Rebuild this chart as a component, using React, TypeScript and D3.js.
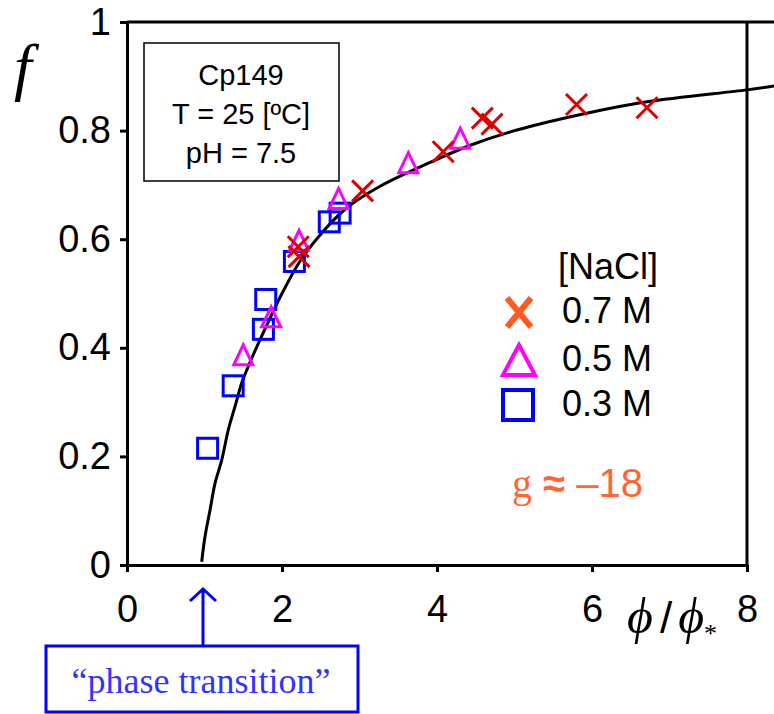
import React, { useEffect, useRef } from 'react';
import * as d3 from 'd3';

// data
const xTicks = [0, 2, 4, 6, 8];
const yTicks = [0, 0.2, 0.4, 0.6, 0.8, 1];
const legendLabels = ['0.7 M', '0.5 M', '0.3 M'];

const phi07 = [2.21, 2.22, 3.04, 4.08, 4.585, 4.71, 5.8, 6.71];
const f07 = [0.586, 0.568, 0.689, 0.761, 0.823, 0.812, 0.848, 0.842];
const phi05 = [1.5, 1.86, 2.22, 2.73, 3.63, 4.3];
const f05 = [0.387, 0.457, 0.598, 0.675, 0.741, 0.786];
const phi03 = [1.04, 1.37, 1.76, 1.79, 2.16, 2.61, 2.75];
const f03 = [0.215, 0.33, 0.434, 0.489, 0.559, 0.632, 0.648];

const curvePhi = [0.964, 1.006, 1.071, 1.135, 1.222, 1.307, 1.394, 1.48, 1.545, 1.695, 2.0, 2.23, 2.51, 2.83, 3.26, 3.89, 4.43, 5.03, 5.93, 6.71, 8.0, 8.35];
const curveF = [0.006, 0.052, 0.101, 0.15, 0.193, 0.249, 0.292, 0.335, 0.359, 0.408, 0.5, 0.559, 0.611, 0.657, 0.697, 0.74, 0.773, 0.801, 0.832, 0.853, 0.875, 0.882];

const SANS = 'Liberation Sans, Arial, sans-serif';
const SERIF = 'Liberation Serif, Times New Roman, serif';

const App = () => {
  const ref = useRef<SVGSVGElement | null>(null);

  useEffect(() => {
    const W = 774;
    const svg = d3.select(ref.current);
    svg.selectAll('*').remove();

    const x = d3.scaleLinear().domain([0, 8]).range([127, 747]);
    const y = d3.scaleLinear().domain([0, 1]).range([565, 22]);

    // frame: top line runs to the edge, right line at x=8
    svg.append('line').attr('x1', x(0)).attr('x2', W).attr('y1', y(1)).attr('y2', y(1))
      .attr('stroke', '#000').attr('stroke-width', 3);
    svg.append('line').attr('x1', x(8)).attr('x2', x(8)).attr('y1', y(1)).attr('y2', y(0))
      .attr('stroke', '#000').attr('stroke-width', 3);

    // y axis
    const yAxis = svg.append('g').attr('transform', `translate(${x(0)},0)`)
      .call(d3.axisLeft(y).tickValues(yTicks).tickSize(7).tickSizeOuter(0).tickPadding(9)
        .tickFormat(d => (d === 0 || d === 1 ? String(d) : (d as number).toFixed(1))));
    yAxis.select('.domain').attr('stroke-width', 3);
    yAxis.selectAll('.tick line').attr('stroke-width', 3);
    yAxis.selectAll('text').style('font-family', SANS).style('font-size', '38px').attr('fill', '#000');

    // x axis
    const xAxis = svg.append('g').attr('transform', `translate(0,${y(0)})`)
      .call(d3.axisBottom(x).tickValues(xTicks).tickSize(7).tickSizeOuter(0).tickPadding(23)
        .tickFormat(d => String(d)));
    xAxis.select('.domain').attr('stroke-width', 3);
    xAxis.selectAll('.tick line').attr('stroke-width', 3);
    xAxis.selectAll('text').style('font-family', SANS).style('font-size', '38px').attr('fill', '#000');

    // axis titles
    svg.append('text').attr('x', 14).attr('y', 88).text('f')
      .style('font-family', SERIF).style('font-style', 'italic').style('font-size', '64px');

    const xt = svg.append('text').attr('x', 627).attr('y', 633)
      .style('font-family', SERIF).style('font-style', 'italic').style('font-size', '50px');
    xt.append('tspan').text('ϕ');
    xt.append('tspan').attr('dx', 7).style('font-style', 'normal').style('font-family', SANS).style('font-size', '44px').text('/');
    xt.append('tspan').attr('dx', 6).text('ϕ');
    xt.append('tspan').attr('dy', 9).style('font-size', '26px').style('font-style', 'normal').text('*');

    // fit curve
    const line = d3.line<number>()
      .x((d, i) => x(curvePhi[i]))
      .y(d => y(d))
      .curve(d3.curveCatmullRom.alpha(0.5));
    svg.append('path').attr('d', line(curveF)).attr('fill', 'none')
      .attr('stroke', '#000').attr('stroke-width', 3);

    // markers
    const drawX = (g, cx, cy, r, color, sw) => {
      g.append('path').attr('d', `M${cx - r},${cy - r}L${cx + r},${cy + r}M${cx + r},${cy - r}L${cx - r},${cy + r}`)
        .attr('stroke', color).attr('stroke-width', sw).attr('fill', 'none');
    };
    const drawTri = (g, cx, cy, w, h, color, sw) => {
      g.append('path').attr('d', `M${cx},${cy - h / 2}L${cx + w / 2},${cy + h / 2}L${cx - w / 2},${cy + h / 2}Z`)
        .attr('stroke', color).attr('stroke-width', sw).attr('fill', 'none');
    };
    const drawSq = (g, cx, cy, s, color, sw) => {
      g.append('rect').attr('x', cx - s / 2).attr('y', cy - s / 2).attr('width', s).attr('height', s)
        .attr('stroke', color).attr('stroke-width', sw).attr('fill', 'none');
    };

    const pts = svg.append('g');
    phi03.forEach((p, i) => drawSq(pts, x(p), y(f03[i]), 20, '#0000ff', 3));
    phi05.forEach((p, i) => drawTri(pts, x(p), y(f05[i]), 19, 20, '#ff00ff', 3));
    phi07.forEach((p, i) => drawX(pts, x(p), y(f07[i]), 10.5, '#dd0000', 3));

    // info box
    svg.append('rect').attr('x', 144).attr('y', 43).attr('width', 195).attr('height', 138)
      .attr('fill', 'none').attr('stroke', '#000').attr('stroke-width', 1.5);
    ['Cp149', 'T = 25 [ºC]', 'pH = 7.5'].forEach((t, i) => {
      svg.append('text').attr('x', 241).attr('y', 85 + i * 39).attr('text-anchor', 'middle')
        .style('font-family', SANS).style('font-size', '29px').text(t);
    });

    // legend
    svg.append('text').attr('x', 558).attr('y', 279).text('[NaCl]')
      .style('font-family', SANS).style('font-size', '36px');
    const legY = [312, 360, 405];
    legendLabels.forEach((t, i) => {
      svg.append('text').attr('x', 562).attr('y', legY[i] + 11).text(t)
        .style('font-family', SANS).style('font-size', '36px');
    });
    const lg = svg.append('g');
    lg.append('path').attr('d', `M507,298L531,327M531,298L507,327`)
      .attr('stroke', '#ff5a1f').attr('stroke-width', 6).attr('fill', 'none');
    drawTri(lg, 519, legY[1], 32, 30, '#ff00ff', 4);
    drawSq(lg, 518, legY[2], 30, '#0000ff', 4);

    const g = svg.append('text').attr('x', 512).attr('y', 497).attr('fill', '#ff6633').style('font-size', '40px');
    g.append('tspan').style('font-family', SERIF).text('g');
    g.append('tspan').style('font-family', SANS).style('font-weight', 'bold').text(' ≈ ');
    g.append('tspan').style('font-family', SANS).text('–18');

    // phase transition callout
    svg.append('path').attr('d', 'M203,646L203,589M190,601L203,589L216,601')
      .attr('stroke', '#0000ff').attr('stroke-width', 3).attr('fill', 'none');
    svg.append('rect').attr('x', 46).attr('y', 646).attr('width', 312).attr('height', 66)
      .attr('fill', 'none').attr('stroke', '#0000ff').attr('stroke-width', 3);
    svg.append('text').attr('x', 201).attr('y', 693).attr('text-anchor', 'middle')
      .attr('fill', '#3333ff').style('font-family', SERIF).style('font-size', '36px')
      .text('“phase transition”');
  }, []);

  return (
    <svg ref={ref} width={774} height={714}
      style={{ position: 'absolute', left: 0, top: 0, background: '#fff' }} />
  );
};

export default App;
